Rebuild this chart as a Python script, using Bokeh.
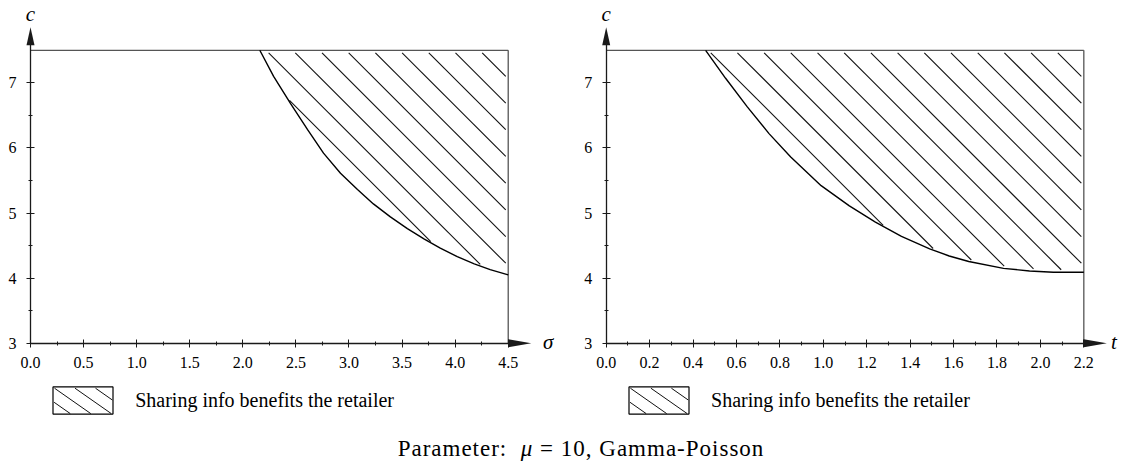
import numpy as np
from bokeh.plotting import figure
from bokeh.models import Range1d, FixedTicker, PrintfTickFormatter, Label, Legend, LegendItem, Div
from bokeh.layouts import row, column
from bokeh.embed import file_html
from bokeh.resources import INLINE

# ---------------- data ----------------
sigma_curve = [2.16, 2.29, 2.45, 2.61, 2.76, 2.92, 3.08, 3.23, 3.39, 3.55, 3.71, 3.86, 4.02, 4.18, 4.33, 4.50]
c_sigma_curve = [7.50, 7.10, 6.68, 6.28, 5.92, 5.61, 5.36, 5.14, 4.94, 4.76, 4.60, 4.46, 4.33, 4.22, 4.13, 4.05]

t_curve = [0.458, 0.55, 0.65, 0.75, 0.85, 0.99, 1.12, 1.24, 1.36, 1.49, 1.58, 1.67, 1.83, 1.95, 2.06, 2.20]
c_t_curve = [7.50, 7.07, 6.63, 6.22, 5.86, 5.42, 5.11, 4.86, 4.64, 4.45, 4.34, 4.255, 4.15, 4.11, 4.09, 4.09]

sigma_ticks = [0.0, 0.5, 1.0, 1.5, 2.0, 2.5, 3.0, 3.5, 4.0, 4.5]
sigma_minor = [0.25, 0.75, 1.25, 1.75, 2.25, 2.75, 3.25, 3.75, 4.25]
t_ticks = [0.0, 0.2, 0.4, 0.6, 0.8, 1.0, 1.2, 1.4, 1.6, 1.8, 2.0, 2.2]
t_minor = [0.1, 0.3, 0.5, 0.7, 0.9, 1.1, 1.3, 1.5, 1.7, 1.9, 2.1]
c_ticks = [3, 4, 5, 6, 7]
c_minor = [3.5, 4.5, 5.5, 6.5]
C_MIN = 3.0
C_TOP = 7.5

legend_text = "Sharing info benefits the retailer"
caption_text = "Parameter:&nbsp;&nbsp;<i>&mu;</i> = 10, Gamma-Poisson"

SERIF = "Liberation Serif"
AXIS_COLOR = "#1a1a1a"
EDGE_COLOR = "#555555"

FIG_H = 425
Y_ORIGIN_PX = 342.7   # page y of c = 3
YPX = 65.09           # px per unit of c

# legend glyph: Bokeh insets area glyphs by 10% on each side
LEG_GW = 75
LEG_GH = 34
LEG_BOTTOM = 414
LEG_BOX_W = 0.8 * LEG_GW
LEG_BOX_H = 0.8 * LEG_GH
LEG_BOX_TOP = LEG_BOTTOM - LEG_BOX_H

# hatching style (screen space)
HATCH_SPACING_PX = 26.7
HATCH_PHASE_PX = 28.5
HATCH_GAP_PX = 3.5
LEG_HATCH_SLOPE = 0.7
LEG_HATCH_SPACING = 20.5


def hatch_segments(xs, ys, x_max, xpx):
    """45-degree '\\' hatch lines clipped to the region above the curve."""
    xs_a = np.asarray(xs, dtype=float)
    ys_a = np.asarray(ys, dtype=float)
    k = xpx / YPX                      # c drop per unit x along a 45-degree screen line
    grid = np.linspace(xs_a[0], x_max, 6000)
    curve = np.interp(grid, xs_a, ys_a)
    step = HATCH_SPACING_PX / xpx
    g = HATCH_GAP_PX / np.sqrt(2) / xpx
    x0s, y0s, x1s, y1s = [], [], [], []
    s0 = x_max - HATCH_PHASE_PX / xpx
    s_low = xs_a[0] - (C_TOP - C_MIN) / k
    while s0 > s_low:
        cl = C_TOP - (grid - s0) * k
        inside = (cl <= C_TOP) & (cl >= curve)
        idx = np.flatnonzero(inside)
        if idx.size:
            runs = np.split(idx, np.flatnonzero(np.diff(idx) > 1) + 1)
            for r in runs:
                a, b = grid[r[0]] + g, grid[r[-1]] - g
                if (b - a) * xpx > 4:
                    x0s.append(a); y0s.append(C_TOP - (a - s0) * k)
                    x1s.append(b); y1s.append(C_TOP - (b - s0) * k)
        s0 -= step
    return x0s, y0s, x1s, y1s


def legend_hatch(box_left_page, x_origin_px, xpx):
    """Hatch lines inside the legend swatch (screen layout -> data units)."""
    inset = 0.9
    w, h = LEG_BOX_W, LEG_BOX_H
    out = ([], [], [], [])
    for kk in range(-3, 5):
        xk = LEG_HATCH_SPACING * kk
        xa = max(inset, xk + inset / LEG_HATCH_SLOPE)
        xb = min(w - inset, xk + (h - inset) / LEG_HATCH_SLOPE)
        if xb - xa < 2:
            continue
        for (lx, arr_x, arr_y) in ((xa, out[0], out[1]), (xb, out[2], out[3])):
            ly = LEG_HATCH_SLOPE * (lx - xk)
            arr_x.append((box_left_page + lx - x_origin_px) / xpx)
            arr_y.append(C_MIN + (Y_ORIGIN_PX - (LEG_BOX_TOP + ly)) / YPX)
    return out


def make_panel(xs, ys, x_max, x_ticks, x_minor, x_name, name_dx, left, width, x_origin_px, xpx, legend_box_x):
    # frame covers the whole figure; axes are placed at fixed data locations
    x_start = (left - x_origin_px) / xpx
    x_end = (left + width - x_origin_px) / xpx
    y_end = C_MIN + Y_ORIGIN_PX / YPX
    y_start = C_MIN - (FIG_H - Y_ORIGIN_PX) / YPX
    p = figure(width=width, height=FIG_H, output_backend="svg", toolbar_location=None,
               x_range=Range1d(x_start, x_end), y_range=Range1d(y_start, y_end),
               min_border=0)
    p.outline_line_color = None
    p.grid.visible = False
    p.background_fill_color = "white"

    # hatching of the region where sharing benefits the retailer
    hx0, hy0, hx1, hy1 = hatch_segments(xs, ys, x_max, xpx)
    p.segment(x0=hx0, y0=hy0, x1=hx1, y1=hy1, line_color="#111111", line_width=1.1)

    # top line and right edge
    p.segment(x0=[0, x_max], y0=[C_TOP, C_MIN], x1=[x_max, x_max], y1=[C_TOP, C_TOP],
              line_color=EDGE_COLOR, line_width=1.3)

    # curve
    p.line(xs, ys, line_color="black", line_width=1.4)

    # arrow heads
    y_tip = C_TOP + 23 / YPX
    y_base = y_tip - 18 / YPX
    hw = 4 / xpx
    p.patch([-hw, hw, 0], [y_base, y_base, y_tip], fill_color=AXIS_COLOR, line_color=None)
    x_tip = x_max + 23 / xpx
    hh = 4 / YPX
    p.patch([x_max, x_max, x_tip], [C_MIN - hh, C_MIN + hh, C_MIN], fill_color=AXIS_COLOR, line_color=None)

    # axes
    for ax in (p.xaxis[0], p.yaxis[0]):
        ax.axis_line_color = AXIS_COLOR
        ax.axis_line_width = 1.3
        ax.major_tick_line_color = AXIS_COLOR
        ax.minor_tick_line_color = AXIS_COLOR
        ax.major_tick_in = 4
        ax.major_tick_out = 4
        ax.minor_tick_in = 2
        ax.minor_tick_out = 2
        ax.major_label_text_font = SERIF
        ax.major_label_text_font_size = "16px"
        ax.major_label_text_color = "black"
    p.xaxis.ticker = FixedTicker(ticks=x_ticks, minor_ticks=x_minor)
    p.xaxis.formatter = PrintfTickFormatter(format="%.1f")
    p.xaxis.bounds = (0, x_max)
    p.xaxis.major_label_standoff = 10
    p.xaxis.fixed_location = C_MIN
    p.yaxis.ticker = FixedTicker(ticks=c_ticks, minor_ticks=c_minor)
    p.yaxis.formatter = PrintfTickFormatter(format="%d")
    p.yaxis.bounds = (C_MIN, y_base + 1 / YPX)
    p.yaxis.major_label_standoff = 10
    p.yaxis.fixed_location = 0

    # axis names
    p.add_layout(Label(x=0, y=C_MIN + (Y_ORIGIN_PX - 13) / YPX, text="c", text_align="center",
                       text_baseline="middle", text_font=SERIF, text_font_style="italic",
                       text_font_size="21px", text_color="black"))
    p.add_layout(Label(x=x_tip + name_dx / xpx, y=C_MIN + 1 / YPX, text=x_name, text_align="center",
                       text_baseline="middle", text_font=SERIF, text_font_style="italic",
                       text_font_size="21px", text_color="black"))

    # legend swatch hatching (drawn under the transparent legend swatch)
    lx0, ly0, lx1, ly1 = legend_hatch(left + legend_box_x, x_origin_px, xpx)
    p.segment(x0=lx0, y0=ly0, x1=lx1, y1=ly1, line_color="#111111", line_width=1.0)

    # legend (proxy renderer with a single NaN vertex, so nothing is drawn in the plot)
    dummy = p.patch(np.array([np.nan]), np.array([np.nan]), fill_color=None,
                    line_color="black", line_width=1.2)
    legend_x = legend_box_x - 0.1 * LEG_GW
    legend_y = FIG_H - (LEG_BOTTOM + 0.1 * LEG_GH)
    legend = Legend(items=[LegendItem(label=legend_text, renderers=[dummy])],
                    location=(legend_x, legend_y), glyph_width=LEG_GW, glyph_height=LEG_GH,
                    label_standoff=15, label_text_font=SERIF, label_text_font_size="20px",
                    label_text_color="black", label_height=LEG_GH,
                    border_line_color=None, background_fill_alpha=0, padding=0, margin=0)
    p.add_layout(legend)
    return p


p1 = make_panel(sigma_curve, c_sigma_curve, 4.5, sigma_ticks, sigma_minor, "\u03c3", 17,
                left=0, width=566, x_origin_px=30.0, xpx=106.16, legend_box_x=52.7)
p2 = make_panel(t_curve, c_t_curve, 2.2, t_ticks, t_minor, "t", 7,
                left=566, width=556, x_origin_px=605.7, xpx=217.1, legend_box_x=628.6 - 566)

cap = Div(text=('<div style="width:1122px;box-sizing:border-box;padding-left:30px;'
                'padding-top:6px;text-align:center;font-family:\'Liberation Serif\';'
                'font-size:23px;letter-spacing:1px;color:black;line-height:26px;">'
                + caption_text + '</div>'), width=1122, height=41)

layout = column(row(p1, p2), cap)
open("out.html", "w").write(file_html(layout, INLINE))
